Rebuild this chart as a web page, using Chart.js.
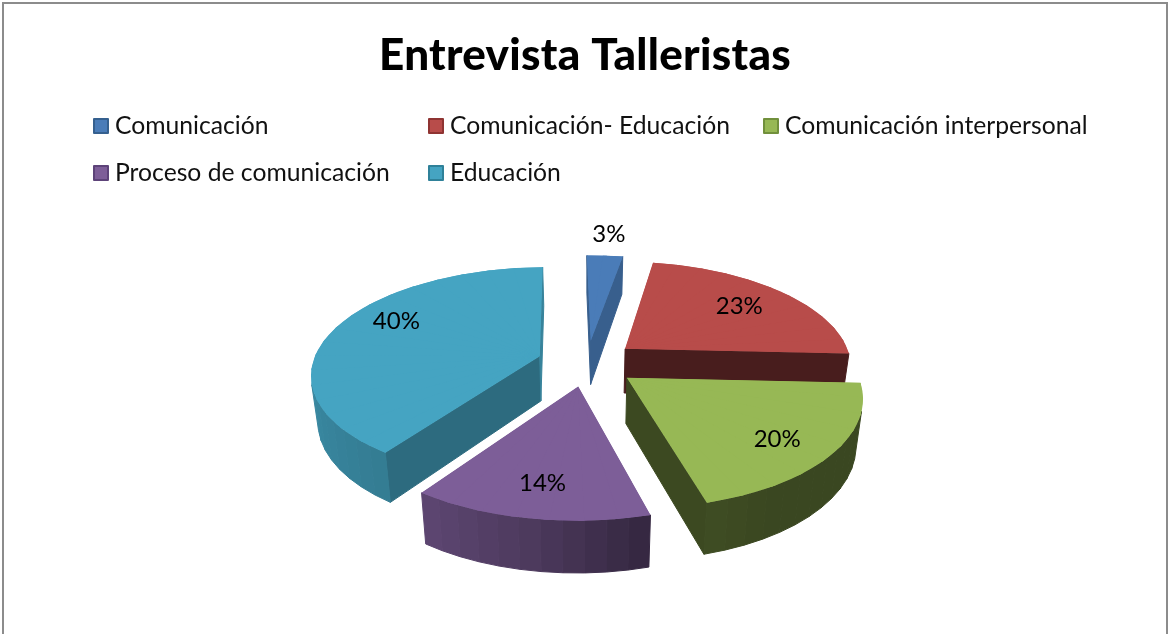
<!DOCTYPE html>
<html><head><meta charset="utf-8">
<style>html,body{margin:0;padding:0;background:#fff;overflow:hidden}canvas{display:block}</style>
<script src="https://cdn.jsdelivr.net/npm/chart.js@4"></script>
</head><body><canvas id="c" width="1170" height="634"></canvas>
<script>
const titleText = 'Entrevista Talleristas';
const categories = ['Comunicación','Comunicación- Educación','Comunicación interpersonal','Proceso de comunicación','Educación'];
const values = [3,23,20,14,40];
const colors = ['#4a7cb8','#b84c4a','#97b855','#7d5e98','#45a4c2'];
const legendBorders = ['#35608f','#8f3432','#71903c','#5d4379','#2f8199'];

// style / layout constants
const cam = {cx:587, cy:363, rx:227, ry:105, k:0.156, bottomScale:0.975, depth:45, depthFront:6};
const explodeFraction = 0.22;
const labelFractions = [1.25,0.72,0.76,0.72,0.72];
const labelNudge = [[1,-3],[0,0],[-2,5],[-2,7],[5,-14]];
const drawOrder = [0,1,4,2,3];
const wallShades = [[0,.8],[10.8,.77],[93,.39],[150,.39],[165,.42],[190,.62],[216,.76],[270,.86],[360,.8]];
const faceShades = [[0,.77],[10.8,.77],[93.6,.39],[165.6,.40],[216,.66],[360,.8]];

const interp=(t,d)=>{for(let i=1;i<t.length;i++)if(d<=t[i][0]){const[a,x]=t[i-1],[b,y]=t[i];return x+(y-x)*(d-a)/(b-a)}return t[t.length-1][1]};
const shadeCol=(hex,s)=>{const n=parseInt(hex.slice(1),16);return `rgb(${(n>>16&255)*s|0},${(n>>8&255)*s|0},${(n&255)*s|0})`};
const project=(u,v)=>{const w=1/(1-cam.k*v);return {x:cam.cx+cam.rx*u*w,y:cam.cy+cam.ry*v*w}};
const deg=a=>((a+Math.PI/2)*180/Math.PI);

function sliceGeom(el){
  const s=el.startAngle,e=el.endAngle,mid=(s+e)/2,f=explodeFraction;
  const ou=f*Math.cos(mid),ov=f*Math.sin(mid);
  const S0=project(ou,ov);
  const rim=a=>project(ou+Math.cos(a),ov+Math.sin(a));
  return {S0,mid,s,e,ou,ov,rim,vOf:a=>ov+Math.sin(a),R:el.outerRadius};
}
const down=(p,v)=>({x:cam.cx+(p.x-cam.cx)*cam.bottomScale,y:p.y+cam.depth+cam.depthFront*v});
function quad(ctx,a,b,va,vb,col){
  const c=down(b,vb),d=down(a,va),P=[a,b,c,d];
  let area=0;for(let i=0;i<4;i++){const p=P[i],q=P[(i+1)%4];area+=p.x*q.y-q.x*p.y}
  if(area>=0)return;
  ctx.fillStyle=ctx.strokeStyle=col;ctx.lineWidth=1;ctx.lineJoin='round';ctx.beginPath();
  P.forEach((p,i)=>i?ctx.lineTo(p.x,p.y):ctx.moveTo(p.x,p.y));ctx.closePath();ctx.fill();ctx.stroke();
}
// Draw the library's arc element piecewise, each wedge under its own affine fit of the perspective
function drawTop(ctx,el,g,base){
  const step=8*Math.PI/180,n=Math.max(1,Math.ceil((g.e-g.s)/step)),ov=0.6*Math.PI/180;
  // underlay hides hairline seams where the wedges meet at the apex
  ctx.fillStyle=base;ctx.beginPath();ctx.moveTo(g.S0.x,g.S0.y);
  for(let j=0;j<=n;j++){const p=g.rim(g.s+(g.e-g.s)*j/n);ctx.lineTo(p.x,p.y)}
  ctx.closePath();ctx.fill();
  for(let j=0;j<n;j++){
    const a=g.s+(g.e-g.s)*j/n,b=g.s+(g.e-g.s)*(j+1)/n;
    const ca=j?a-ov:a,cb=j<n-1?b+ov:b;
    const P1=g.rim(a),P2=g.rim(b);
    const ax=g.R*Math.cos(a),ay=g.R*Math.sin(a),bx=g.R*Math.cos(b),by=g.R*Math.sin(b),det=ax*by-bx*ay;
    const sax=P1.x-g.S0.x,say=P1.y-g.S0.y,sbx=P2.x-g.S0.x,sby=P2.y-g.S0.y;
    const A=(sax*by-sbx*ay)/det,C=(sbx*ax-sax*bx)/det,B=(say*by-sby*ay)/det,D=(sby*ax-say*bx)/det;
    ctx.save();
    const Ca=g.rim(ca),Cb=g.rim(cb),Cm=g.rim((ca+cb)/2);
    const grow=p=>({x:g.S0.x+(p.x-g.S0.x)*1.15,y:g.S0.y+(p.y-g.S0.y)*1.15});
    const q1=grow(Ca),q2=grow(Cm),q3=grow(Cb);
    ctx.beginPath();ctx.moveTo(g.S0.x,g.S0.y);ctx.lineTo(q1.x,q1.y);ctx.lineTo(q2.x,q2.y);ctx.lineTo(q3.x,q3.y);ctx.closePath();ctx.clip();
    ctx.transform(A,B,C,D,g.S0.x,g.S0.y);
    ctx.translate(-el.x,-el.y);
    el.draw(ctx);
    ctx.restore();
  }
}

const pie3d={id:'pie3d',
  beforeDraw(chart){const c=chart.ctx;c.save();c.fillStyle='#fff';c.fillRect(0,0,1170,634);
    c.strokeStyle='#8c8c8c';c.lineWidth=2;c.strokeRect(3,3,1164,700);c.restore();
    c.letterSpacing='0.3px'},
  beforeDatasetDraw(chart,args){
    const ctx=chart.ctx,els=chart.getDatasetMeta(args.index).data;
    ctx.letterSpacing='0px';
    drawOrder.forEach(i=>{
      const el=els[i],g=sliceGeom(el),base=colors[i];
      quad(ctx,g.S0,g.rim(g.s),g.ov,g.vOf(g.s),shadeCol(base,interp(faceShades,deg(g.s))));
      quad(ctx,g.rim(g.e),g.S0,g.vOf(g.e),g.ov,shadeCol(base,interp(faceShades,deg(g.e))));
      const n=Math.max(1,Math.ceil((g.e-g.s)/(5*Math.PI/180)));
      for(let j=0;j<n;j++){
        const a=g.s+(g.e-g.s)*j/n,b=g.s+(g.e-g.s)*(j+1)/n;
        quad(ctx,g.rim(a),g.rim(b),g.vOf(a),g.vOf(b),shadeCol(base,interp(wallShades,deg((a+b)/2))));
      }
      drawTop(ctx,el,g,base);
    });
    return false;
  },
  afterDraw(chart){
    const ctx=chart.ctx,els=chart.getDatasetMeta(0).data;
    ctx.save();ctx.fillStyle='#000';ctx.textAlign='center';ctx.textBaseline='middle';ctx.font='24px Lato';
    els.forEach((el,i)=>{const g=sliceGeom(el),fr=labelFractions[i];
      const p=project(g.ou+fr*Math.cos(g.mid),g.ov+fr*Math.sin(g.mid));
      ctx.fillText(values[i]+'%',p.x+labelNudge[i][0],p.y+labelNudge[i][1])});
    const cols=[93,428,763],rows=[118,165];
    ctx.textAlign='left';ctx.textBaseline='alphabetic';ctx.font='24.7px Lato';
    categories.forEach((t,i)=>{
      const x=cols[i%3],y=rows[Math.floor(i/3)];
      ctx.fillStyle=colors[i];ctx.strokeStyle=legendBorders[i];ctx.lineWidth=2;
      ctx.fillRect(x+1,y+1,14,14);ctx.strokeRect(x+1,y+1,14,14);
      ctx.fillStyle='#111';ctx.fillText(t,x+22,y+16);
    });
    ctx.restore();
  }
};

new Chart(document.getElementById('c'),{
  type:'pie',
  data:{labels:categories,datasets:[{data:values,backgroundColor:colors,borderWidth:0,radius:200,rotation:-1}]},
  options:{responsive:false,animation:false,
    plugins:{legend:{display:false},tooltip:{enabled:false},
      title:{display:true,text:titleText,color:'#000',font:{family:'Lato',size:44,weight:'900'},padding:{top:29,bottom:20}}}},
  plugins:[pie3d]
});
</script></body></html>
